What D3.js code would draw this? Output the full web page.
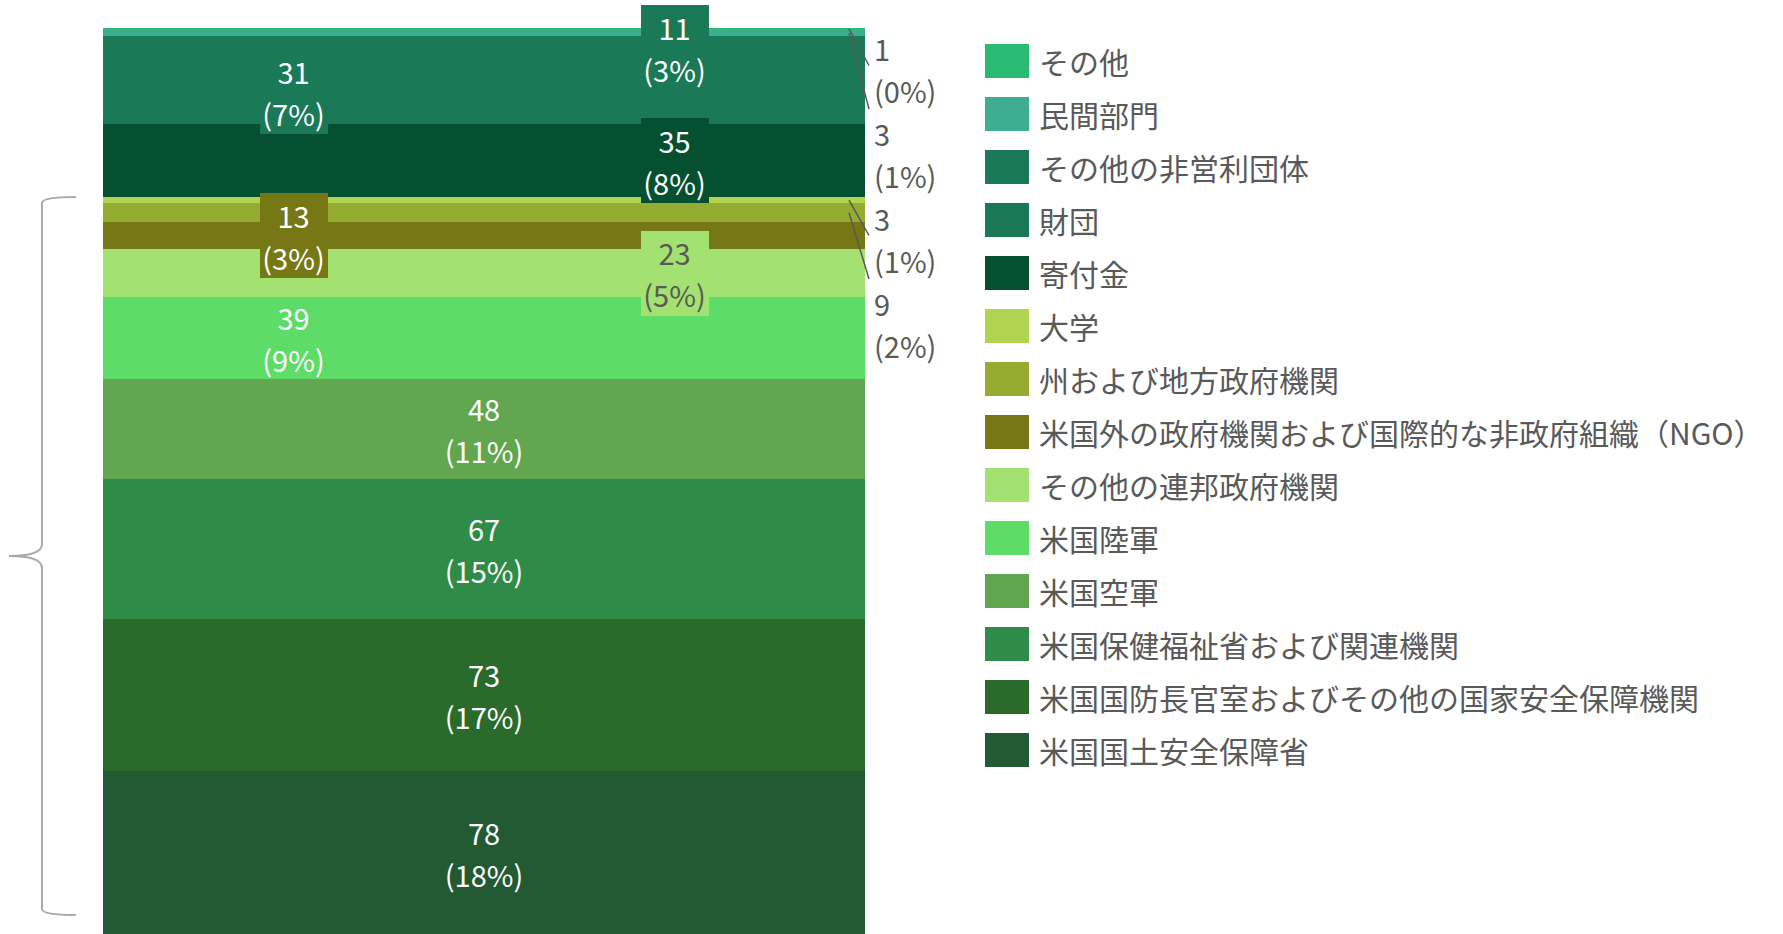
<!DOCTYPE html>
<html>
<head>
  <meta charset="utf-8">
  <title>資金源別の内訳</title>
  <style>
    body
    {
      margin: 0;
      background: #fff;
    }

    svg text
    {
      font-family: "Noto Sans CJK JP", "Noto Sans", sans-serif;
    }
  </style>
</head>
<body>
  <div id="chart-container"></div>

  <script src="https://d3js.org/d3.v7.min.js"></script>
  <script>
// Funding sources, in stacking order (bottom of the bar first)
var categories = [
  "米国国土安全保障省",
  "米国国防長官室およびその他の国家安全保障機関",
  "米国保健福祉省および関連機関",
  "米国空軍",
  "米国陸軍",
  "その他の連邦政府機関",
  "米国外の政府機関および国際的な非政府組織（NGO）",
  "州および地方政府機関",
  "大学",
  "寄付金",
  "財団",
  "その他の非営利団体",
  "民間部門",
  "その他"
];

var values = [78, 73, 67, 48, 39, 23, 13, 9, 3, 35, 31, 11, 3, 1];

var colors = [
  "#225a33", "#2a6b2c", "#2f8b48", "#62a64f", "#5ddc68", "#a3e270", "#767816",
  "#94ad30", "#b0d450", "#045030", "#1a7a57", "#1a7a57", "#3dae91", "#2abb73"
];

var width = 1783, height = 934;
var textGray = "#595959";

var svg = d3.select("#chart-container")
  .append("svg")
  .attr("width", width)
  .attr("height", height);

var total = d3.sum(values);

// one row holding every source, stacked with d3.stack
var row = {};
categories.forEach(function(c, i) { row[c] = values[i]; });
var stacked = d3.stack().keys(categories)([row]);

var xScale = d3.scaleBand()
  .domain(["all"])
  .range([103, 865])
  .padding(0);

var yScale = d3.scaleLinear()
  .domain([0, total])
  .range([height, 28]);

var barLeft = xScale("all");
var barRight = barLeft + xScale.bandwidth();
var barMid = barLeft + xScale.bandwidth() / 2;

// Bar segments
svg.selectAll("rect.seg")
  .data(stacked)
  .enter()
  .append("rect")
  .attr("class", "seg")
  .attr("x", barLeft)
  .attr("width", xScale.bandwidth())
  .attr("y", function(s) { return yScale(s[0][1]); })
  .attr("height", function(s) { return yScale(s[0][0]) - yScale(s[0][1]); })
  .attr("fill", function(s, i) { return colors[i]; })
  .attr("shape-rendering", "crispEdges");

function pct(v) { return "(" + Math.round(v / total * 100) + "%)"; }

// Labels: big ones in the middle, mid-size ones alternate left/right, tiny ones go outside
var inside = [], outside = [];
var side = 0;
stacked.forEach(function(s, i) {
  var v = values[i];
  var h = yScale(s[0][0]) - yScale(s[0][1]);
  var cy = (yScale(s[0][0]) + yScale(s[0][1])) / 2;
  if (v >= 45) {
    inside.push({ i: i, x: barMid, y: cy });
  } else if (v >= 10) {
    var x = side % 2 === 0 ? barLeft + xScale.bandwidth() / 4 : barLeft + xScale.bandwidth() * 3 / 4;
    side++;
    // a backing box only when the two lines do not fit in the segment
    inside.push({ i: i, x: x, y: cy, box: h < 78 });
  } else {
    outside.push({ i: i, y: cy });
  }
});

function textColor(c) {
  return d3.lab(c).l > 81 ? textGray : "#fff";
}

var lineGap = 21;

var insideG = svg.selectAll("g.lab")
  .data(inside)
  .enter()
  .append("g")
  .attr("class", "lab");

insideG.filter(function(d) { return d.box; })
  .append("rect")
  .attr("x", function(d) { return d.x - 34; })
  .attr("y", function(d) { return d.y - 42.5; })
  .attr("width", 68)
  .attr("height", 85)
  .attr("fill", function(d) { return colors[d.i]; })
  .attr("shape-rendering", "crispEdges");

insideG.append("text")
  .attr("x", function(d) { return d.x; })
  .attr("y", function(d) { return d.y - lineGap; })
  .attr("text-anchor", "middle")
  .attr("dominant-baseline", "central")
  .attr("font-size", 29)
  .attr("fill", function(d) { return textColor(colors[d.i]); })
  .text(function(d) { return values[d.i]; });

insideG.append("text")
  .attr("x", function(d) { return d.x; })
  .attr("y", function(d) { return d.y + lineGap; })
  .attr("text-anchor", "middle")
  .attr("dominant-baseline", "central")
  .attr("font-size", 29)
  .attr("fill", function(d) { return textColor(colors[d.i]); })
  .text(function(d) { return pct(values[d.i]); });

// Outside labels, top of the bar first, pushed down so they do not overlap
outside.reverse();
var blockH = 85;
var prevBottom = yScale(total) - 2;
outside.forEach(function(d) {
  d.pos = Math.max(d.y, prevBottom + blockH / 2);
  prevBottom = d.pos + blockH / 2;
});

var outG = svg.selectAll("g.out")
  .data(outside)
  .enter()
  .append("g")
  .attr("class", "out");

outG.append("line")
  .attr("x1", barRight - 16)
  .attr("y1", function(d) { return d.y; })
  .attr("x2", barRight + 4)
  .attr("y2", function(d) { return Math.abs(d.pos - d.y) < 60 ? d.pos - 3 : d.pos - blockH / 2 - 2; })
  .attr("stroke", textGray)
  .attr("stroke-width", 1.5);

outG.append("text")
  .attr("x", barRight + 9)
  .attr("y", function(d) { return d.pos - lineGap; })
  .attr("dominant-baseline", "central")
  .attr("font-size", 29)
  .attr("fill", textGray)
  .text(function(d) { return values[d.i]; });

outG.append("text")
  .attr("x", barRight + 9)
  .attr("y", function(d) { return d.pos + lineGap; })
  .attr("dominant-baseline", "central")
  .attr("font-size", 29)
  .attr("fill", textGray)
  .text(function(d) { return pct(values[d.i]); });

// Curly brace on the left, from the top of 大学 down to near the bottom
var bTop = yScale(d3.sum(values.slice(0, 9)));
var bBot = yScale(0) - 19;
var bMid = (bTop + bBot) / 2;
var bx = 42;
svg.append("path")
  .attr("d",
    "M76," + bTop +
    " Q" + bx + "," + bTop + " " + bx + "," + (bTop + 6) +
    " L" + bx + "," + (bMid - 12) +
    " Q" + bx + "," + bMid + " 9," + bMid +
    " Q" + bx + "," + bMid + " " + bx + "," + (bMid + 12) +
    " L" + bx + "," + (bBot - 6) +
    " Q" + bx + "," + bBot + " 76," + bBot)
  .attr("fill", "none")
  .attr("stroke", "#aaaaaa")
  .attr("stroke-width", 2);

// Legend, reverse of the stacking order
var legendOrder = d3.range(categories.length).reverse();
var legend = svg.selectAll("g.legend")
  .data(legendOrder)
  .enter()
  .append("g")
  .attr("class", "legend")
  .attr("transform", function(d, k) { return "translate(985," + (61 + k * 53) + ")"; });

legend.append("rect")
  .attr("x", 0)
  .attr("y", -17)
  .attr("width", 44)
  .attr("height", 34)
  .attr("fill", function(d) { return colors[d]; });

legend.append("text")
  .attr("x", 54)
  .attr("y", 0)
  .attr("dominant-baseline", "central")
  .attr("font-size", 30)
  .attr("fill", textGray)
  .text(function(d) { return categories[d]; });
  </script>
</body>
</html>
